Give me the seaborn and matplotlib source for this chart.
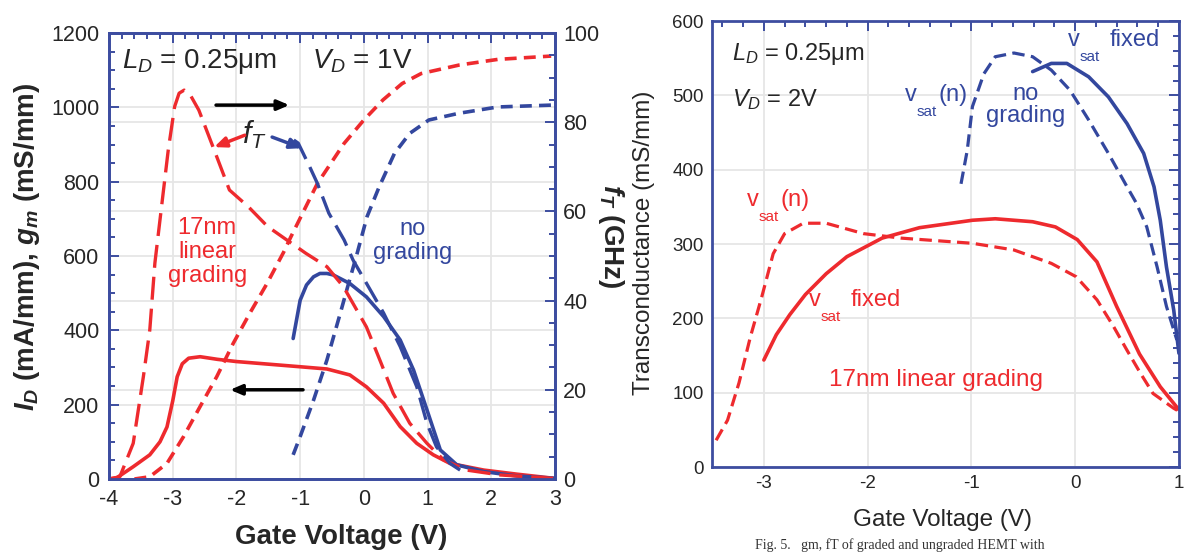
import matplotlib
matplotlib.use('Agg')
import matplotlib.pyplot as plt
import matplotlib.transforms as mtransforms
from matplotlib.ticker import MultipleLocator
import seaborn as sns

## values
# left panel, LD = 0.25um, VD = 1V
vg_gm_graded = [-4.0, -3.88, -3.62, -3.36, -3.2, -3.09, -3.0, -2.93, -2.85, -2.75, -2.57, -2.3,
                -2.0, -1.5, -1.0, -0.58, -0.22, 0.04, 0.31, 0.57, 0.83, 1.09, 1.35, 1.88,
                2.4, 2.97]
gm_graded = [0, 3, 33, 65, 100, 140, 210, 275, 310, 325, 329, 322,
             316, 309, 302, 296, 280, 248, 204, 141, 96, 65, 42, 24,
             13, 2]

vg_id_graded = [-3.6, -3.36, -3.09, -2.83, -2.57, -2.31, -2.05, -1.79, -1.52, -1.26, -1.15, -0.73,
                -0.31, 0.0, 0.3, 0.6, 0.9, 1.5, 2.1, 2.94]
id_graded = [0, 6, 42, 114, 195, 275, 365, 446, 526, 610, 650, 795,
             903, 966, 1020, 1064, 1091, 1114, 1129, 1138]

vg_ft_graded = [-4.0, -3.83, -3.62, -3.46, -3.36, -3.28, -3.07, -2.97, -2.9, -2.82, -2.72, -2.59,
                -2.35, -2.11, -1.81, -1.51, -0.91, -0.58, -0.32, 0.04, 0.25, 0.46, 0.72, 0.99,
                1.25, 1.61, 2.14, 2.97]
ft_graded = [0, 0.5, 8, 23, 33.4, 48.4, 73.8, 83.5, 86.5, 87.2, 86, 82.7,
             73.8, 64.8, 61, 56.6, 50.6, 47.6, 43.1, 34.1, 26.7, 19.2, 12.5, 8.0,
             4.3, 2.0, 0.9, 0.15]

vg_gm_nograd = [-1.11, -1.0, -0.9, -0.79, -0.69, -0.58, -0.48, -0.22, 0.04, 0.31, 0.57, 0.78,
                0.99, 1.2, 1.46, 1.88, 2.4, 3.0]
gm_nograd = [378, 481, 522, 544, 553, 553, 549, 526, 490, 437, 374, 293,
             186, 78, 38, 20, 8, 2]

vg_id_nograd = [-1.11, -1.0, -0.79, -0.58, -0.37, -0.24, -0.12, 0.05, 0.24, 0.48, 0.72, 1.02,
                1.49, 2.1, 2.94]
id_nograd = [65, 114, 212, 320, 446, 526, 598, 706, 786, 876, 930, 966,
             984, 1001, 1006]

vg_ft_nograd = [-1.1, -1.03, -0.85, -0.73, -0.55, -0.31, -0.17, 0.04, 0.31, 0.57, 0.83, 0.99,
                1.14, 1.35, 1.51]
ft_nograd = [76, 75.3, 70, 66.3, 59.6, 53.6, 49.1, 43.9, 37.2, 29.7, 20.7, 12.5,
             7.2, 3.5, 2.0]

# right panel, LD = 0.25um, VD = 2V
vg_fixed_graded = [-3.0, -2.88, -2.75, -2.6, -2.4, -2.2, -1.86, -1.5, -0.99, -0.77, -0.41, -0.19,
                   0.02, 0.21, 0.4, 0.62, 0.82, 1.0]
gm_fixed_graded = [144, 178, 205, 232, 260, 283, 308, 322, 332, 334, 330, 323,
                   306, 276, 216, 152, 108, 77]

vg_vn_graded = [-3.46, -3.35, -3.24, -3.13, -3.02, -2.91, -2.8, -2.62, -2.4, -2.04, -1.68, -0.99,
                -0.59, -0.23, 0.01, 0.21, 0.37, 0.5, 0.63, 0.75, 0.95, 1.0]
gm_vn_graded = [36, 63, 113, 175, 229, 287, 314, 328, 328, 314, 308, 301,
                292, 274, 256, 225, 189, 157, 126, 99, 79, 75]

vg_fixed_nograd = [-0.41, -0.23, -0.08, 0.13, 0.32, 0.5, 0.66, 0.76, 0.82, 0.88, 0.95, 1.0]
gm_fixed_nograd = [532, 543, 543, 525, 498, 462, 422, 377, 332, 269, 211, 153]

vg_vn_nograd = [-1.1, -1.04, -0.99, -0.88, -0.77, -0.59, -0.41, -0.23, -0.05, 0.13, 0.32, 0.5,
                0.59, 0.69, 0.79, 0.88, 0.98]
gm_vn_nograd = [381, 426, 485, 529, 552, 557, 552, 534, 507, 467, 422, 377,
                355, 323, 269, 216, 171]

RED = '#ee2a2e'
BLUE = '#33479e'
AXBLUE = '#3d4da0'
GRID = '#e6e6e6'

sns.set_style('white')
plt.rcParams['font.family'] = ['Liberation Sans', 'DejaVu Sans']
plt.rcParams['axes.unicode_minus'] = False
plt.rcParams['mathtext.fontset'] = 'custom'
plt.rcParams['mathtext.rm'] = 'Liberation Sans'
plt.rcParams['mathtext.it'] = 'Liberation Sans:italic'
plt.rcParams['mathtext.bf'] = 'Liberation Sans:bold'
plt.rcParams['mathtext.bfit'] = 'Liberation Sans:bold:italic'

fig = plt.figure(figsize=(11.9, 5.54), dpi=100)
ax = fig.add_axes([0.0916, 0.1354, 0.3748, 0.805])
ax2 = ax.twinx()
axr = fig.add_axes([0.5983, 0.157, 0.3924, 0.805])

long_dash = (0, (6.9, 2.7))
short_dash = (0, (3.3, 2.0))
r_dash = (0, (3.9, 2.0))

def line(a, x, y, color, ls='-', lw=2.6):
    sns.lineplot(x=x, y=y, ax=a, color=color, lw=lw, linestyle=ls,
                 estimator=None, sort=False)

##left panel
line(ax, vg_gm_graded, gm_graded, RED)
line(ax, vg_id_graded, id_graded, RED, short_dash)
line(ax, vg_gm_nograd, gm_nograd, BLUE)
line(ax, vg_id_nograd, id_nograd, BLUE, short_dash)
line(ax2, vg_ft_graded, ft_graded, RED, long_dash, 2.4)
line(ax2, vg_ft_nograd, ft_nograd, BLUE, long_dash, 2.4)

ax.set_xlim(-4, 3)
ax.set_ylim(0, 1200)
ax2.set_ylim(0, 100)
ax.xaxis.set_major_locator(MultipleLocator(1))
ax.xaxis.set_minor_locator(MultipleLocator(0.2))
ax.yaxis.set_major_locator(MultipleLocator(200))
ax.yaxis.set_minor_locator(MultipleLocator(50))
ax2.yaxis.set_major_locator(MultipleLocator(20))
ax2.yaxis.set_minor_locator(MultipleLocator(5))

# grid of both y scales, kept under the curves
ax.grid(True, which='major', color=GRID, lw=1.3)
ax.set_axisbelow(True)
trans = mtransforms.blended_transform_factory(ax.transAxes, ax2.transData)
for t in [20, 40, 60, 80]:
    ax.plot([0, 1], [t, t], transform=trans, color=GRID, lw=1.3, zorder=0.5)

ax.tick_params(which='both', direction='in', top=True, right=False, color=AXBLUE,
               width=1.4, labelsize=15.5)
ax.tick_params(which='major', length=7, pad=7)
ax.tick_params(which='minor', length=4.5)
ax2.tick_params(which='both', direction='in', right=True, left=False, color=AXBLUE,
                width=1.4, labelsize=15.5)
ax2.tick_params(which='major', length=7, pad=6)
ax2.tick_params(which='minor', length=4.5)

ax.set_xlabel('Gate Voltage (V)', fontsize=20, fontweight='bold', va='center')
ax.xaxis.set_label_coords(0.52, -0.13)
ax.set_ylabel(r'$\mathbfit{I}_{\mathbfit{D}}$ (mA/mm), $\mathbfit{g}_{\mathbfit{m}}$ (mS/mm)',
              fontsize=20, fontweight='bold', va='center')
ax.yaxis.set_label_coords(-0.183, 0.521)
ax2.set_ylabel('')
ax2.text(1.1256, 0.545, r'$\mathbfit{f}_{\mathbfit{T}}$ (GHz)', transform=ax2.transAxes,
         rotation=270, fontsize=20, fontweight='bold', ha='center', va='center')

ax.text(-3.8, 1105, r'$L_D$ = 0.25μm', fontsize=20, va='baseline')
ax.text(-0.81, 1105, r'$V_D$ = 1V', fontsize=20, va='baseline')
ax.text(-2.46, 611, '17nm\nlinear\ngrading', color=RED, fontsize=17, ha='center',
        va='center', linespacing=1.1)
ax.text(0.77, 640, 'no\ngrading', color=BLUE, fontsize=17, ha='center', va='center',
        linespacing=1.1)
ax.text(-1.72, 925, r'$f_T$', fontsize=22, ha='center', va='center')

arrow = dict(arrowstyle='-|>,head_length=0.7,head_width=0.3', lw=2.5, shrinkA=0, shrinkB=0)
ax.annotate('', xy=(-1.17, 1006), xytext=(-2.32, 1006), arrowprops=dict(arrow, color='k'))
ax.annotate('', xy=(-2.1, 240), xytext=(-0.955, 240), arrowprops=dict(arrow, color='k'))
ax.annotate('', xy=(-2.35, 893), xytext=(-1.87, 925), arrowprops=dict(arrow, color=RED))
ax.annotate('', xy=(-0.97, 890), xytext=(-1.44, 920), arrowprops=dict(arrow, color=BLUE))

##right panel
line(axr, vg_fixed_graded, gm_fixed_graded, RED)
line(axr, vg_vn_graded, gm_vn_graded, RED, r_dash, 2.3)
line(axr, vg_fixed_nograd, gm_fixed_nograd, BLUE)
line(axr, vg_vn_nograd, gm_vn_nograd, BLUE, r_dash, 2.3)

axr.set_xlim(-3.5, 1)
axr.set_ylim(0, 600)
axr.xaxis.set_major_locator(MultipleLocator(1))
axr.xaxis.set_minor_locator(MultipleLocator(0.2))
axr.yaxis.set_major_locator(MultipleLocator(100))
axr.yaxis.set_minor_locator(MultipleLocator(20))
axr.grid(True, which='major', color=GRID, lw=1.3)
axr.set_axisbelow(True)
axr.tick_params(which='both', direction='in', top=True, right=True, color=AXBLUE,
                width=1.4, labelsize=13.5)
axr.tick_params(which='major', length=7, pad=6)
axr.tick_params(which='minor', length=4.5)
axr.set_xlabel('Gate Voltage (V)', fontsize=17.5, va='center')
axr.xaxis.set_label_coords(0.4946, -0.118)
axr.set_ylabel('Transconductance (mS/mm)', fontsize=17.5, va='center')
axr.yaxis.set_label_coords(-0.1456, 0.502)

axr.text(-3.307, 547, r'$L_D$ = 0.25μm', fontsize=17, va='baseline')
axr.text(-3.307, 485, r'$V_D$ = 2V', fontsize=17, va='baseline')
axr.text(-0.48, 487, 'no\ngrading', color=BLUE, fontsize=17, ha='center', va='center',
         linespacing=1.05)
axr.text(-1.34, 117, '17nm linear grading', color=RED, fontsize=17.5, ha='center',
         va='center')

def vsat_label(a, x, y, tail, color, tail_dx):
    a.text(x, y, 'v', color=color, fontsize=17, va='baseline')
    a.annotate('sat', (x, y), xytext=(8.3, -10.8), textcoords='offset points',
               fontsize=11, color=color, va='baseline')
    a.annotate(tail, (x, y), xytext=(tail_dx, 0), textcoords='offset points',
               fontsize=17, color=color, va='baseline')

vsat_label(axr, -3.163, 351, '(n)', RED, 24)
vsat_label(axr, -2.567, 216, 'fixed', RED, 29.8)
vsat_label(axr, -1.64, 492, '(n)', BLUE, 24)
vsat_label(axr, -0.065, 566, 'fixed', BLUE, 29.8)

for a in [ax, ax2, axr]:
    for s in a.spines.values():
        s.set_color(AXBLUE)
        s.set_linewidth(2)

# caption line at the foot of the page
fig.text(755 / 1190, 0.003, 'Fig. 5.   gm, fT of graded and ungraded HEMT with',
         family='Liberation Serif', fontsize=10, va='bottom', color='#333333')

fig.savefig('out.png', dpi=100)
